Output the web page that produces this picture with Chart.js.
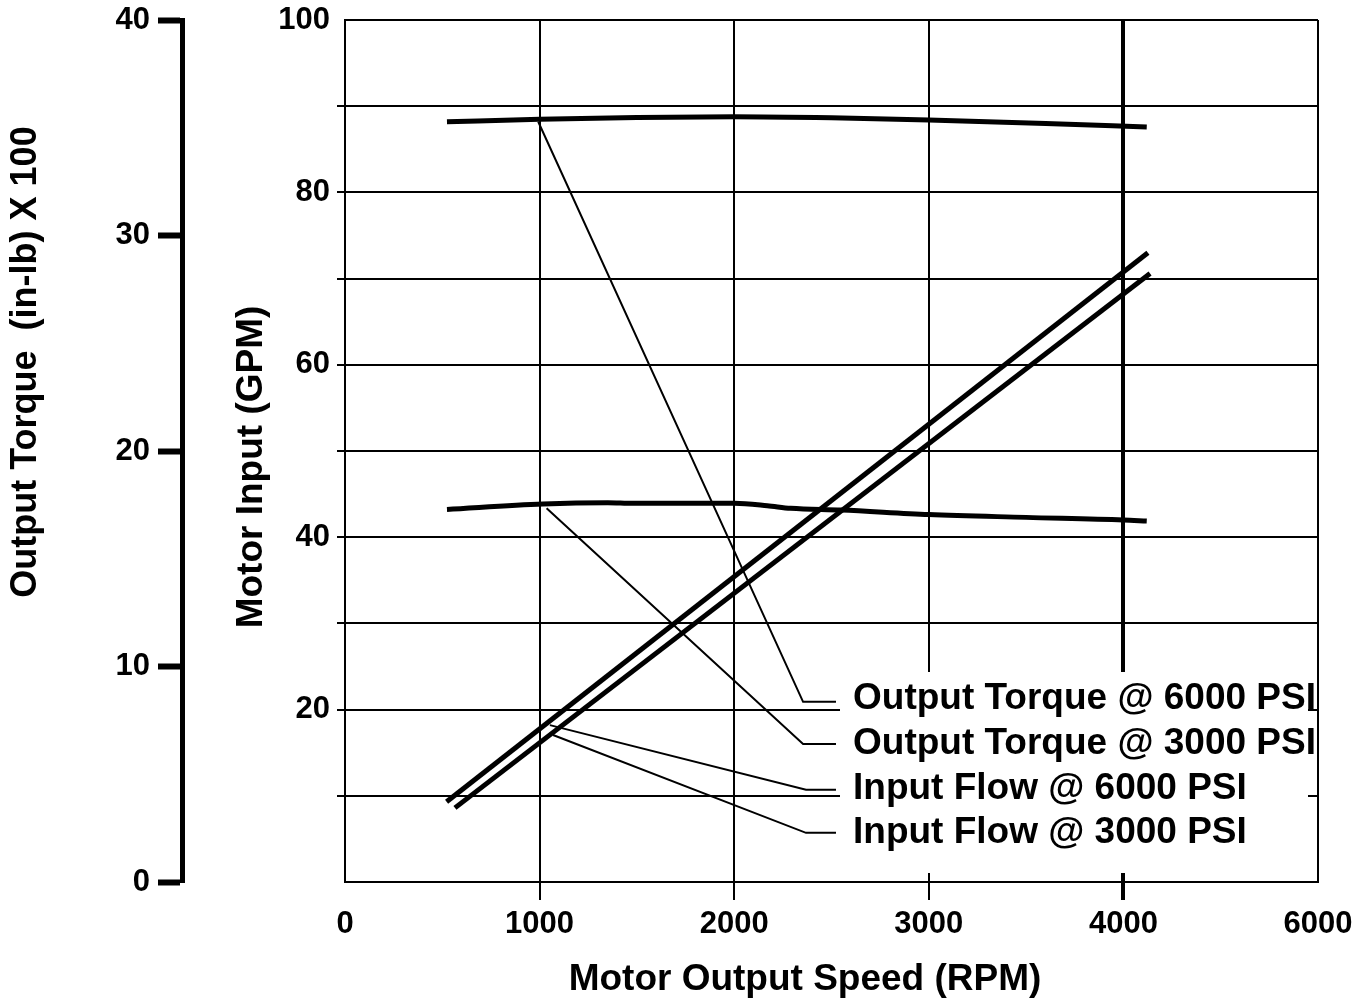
<!DOCTYPE html>
<html>
<head>
<meta charset="utf-8">
<script src="https://cdn.jsdelivr.net/npm/chart.js@4/dist/chart.umd.min.js"></script>
<style>
  html, body { margin: 0; padding: 0; background: #fff; }
  #wrap { width: 1372px; height: 999px; }
</style>
</head>
<body>
<div id="wrap"><canvas id="motor-chart" width="1372" height="999"></canvas></div>
<script>
// ---- data ----
// x axis: the drawn grid runs 0..5000 but the last tick is printed "6000"
const xTickLabels = ['0', '1000', '2000', '3000', '4000', '6000'];

// Output torque (in-lb x 100), far left axis
const rpmTorque6000 = [524, 1000, 1500, 2000, 2500, 3000, 3600, 4120];
const torque6000    = [35.28, 35.39, 35.47, 35.51, 35.46, 35.36, 35.2, 35.03];
const rpmTorque3000 = [524, 1017, 1350, 1480, 2000, 2170, 2290, 2550, 3000, 3500, 4000, 4120];
const torque3000    = [17.29, 17.54, 17.6, 17.57, 17.57, 17.46, 17.34, 17.26, 17.05, 16.92, 16.8, 16.75];

// Input flow (GPM)
const rpmFlow6000 = [522, 4126];
const flow6000    = [9.3, 73.0];
const rpmFlow3000 = [565, 4137];
const flow3000    = [8.6, 70.6];

// leader lines from each curve to its label (RPM / GPM)
const leadRpmT6000  = [993, 2354, 2523];
const leadGpmT6000  = [88.2, 20.9, 20.9];
const leadRpmT3000  = [1036, 2354, 2523];
const leadGpmT3000  = [43.35, 16.0, 16.0];
const leadRpmF6000  = [1053, 2369, 2523];
const leadGpmF6000  = [18.2, 10.7, 10.7];
const leadRpmF3000  = [1069, 2369, 2523];
const leadGpmF3000  = [17.05, 5.7, 5.7];

const labelTexts = [
    'Output Torque @ 6000 PSI',
    'Output Torque @ 3000 PSI',
    'Input Flow @ 6000 PSI',
    'Input Flow @ 3000 PSI'
];

const FONT = '"Liberation Sans", Arial, Helvetica, sans-serif';

function pts(xs, ys) {
    return xs.map((x, i) => ({ x: x, y: ys[i] }));
}

function curve(xs, ys, axis, width, smooth) {
    return {
        data: pts(xs, ys),
        yAxisID: axis,
        borderColor: '#000',
        borderWidth: width,
        pointRadius: 0,
        tension: smooth ? 0.4 : 0,
        cubicInterpolationMode: smooth ? 'monotone' : 'default',
        borderCapStyle: 'butt'
    };
}

// the y scales should not push the plot down for their top label
function squeezeVertical(s) {
    s.paddingTop = 0;
    s.paddingBottom = 0;
}

// white box behind the labels, label text and axis titles
const annotations = {
    id: 'annotations',
    beforeDatasetsDraw(chart) {
        const ctx = chart.ctx;
        ctx.save();
        ctx.fillStyle = '#fff';
        ctx.fillRect(840, 672, 468, 201);
        ctx.restore();
    },
    afterDraw(chart) {
        const ctx = chart.ctx;
        ctx.save();
        ctx.fillStyle = '#000';
        ctx.textBaseline = 'middle';
        ctx.textAlign = 'left';
        ctx.font = 'bold 37px ' + FONT;
        const rows = [699, 744, 789, 833];
        labelTexts.forEach((t, i) => ctx.fillText(t, 853, rows[i]));

        ctx.textAlign = 'center';
        ctx.fillText('Motor Output Speed (RPM)', 805, 980);

        ctx.translate(252, 467);
        ctx.rotate(-Math.PI / 2);
        ctx.fillText('Motor Input (GPM)', 0, 0);
        ctx.restore();

        ctx.save();
        ctx.fillStyle = '#000';
        ctx.textBaseline = 'middle';
        ctx.textAlign = 'center';
        ctx.font = 'bold 36px ' + FONT;
        ctx.translate(26, 362);
        ctx.rotate(-Math.PI / 2);
        ctx.fillText('Output Torque  (in-lb) X 100', 0, 0);
        ctx.restore();
    }
};

const tickFont = { family: FONT, size: 31, weight: 'bold' };

new Chart(document.getElementById('motor-chart'), {
    type: 'line',
    data: {
        datasets: [
            curve(rpmTorque6000, torque6000, 'y2', 5, true),
            curve(rpmTorque3000, torque3000, 'y2', 5, true),
            curve(rpmFlow6000, flow6000, 'y', 5, false),
            curve(rpmFlow3000, flow3000, 'y', 5, false),
            curve(leadRpmT6000, leadGpmT6000, 'y', 2, false),
            curve(leadRpmT3000, leadGpmT3000, 'y', 2, false),
            curve(leadRpmF6000, leadGpmF6000, 'y', 2, false),
            curve(leadRpmF3000, leadGpmF3000, 'y', 2, false)
        ]
    },
    options: {
        responsive: false,
        animation: false,
        layout: { padding: { top: 20, right: 54, left: 0, bottom: 0 } },
        plugins: {
            legend: { display: false },
            tooltip: { enabled: false }
        },
        scales: {
            x: {
                type: 'linear',
                min: 0,
                max: 5000,
                afterFit(s) { s.height = 117; },
                ticks: {
                    stepSize: 1000,
                    color: '#000',
                    font: tickFont,
                    padding: 6,
                    maxRotation: 0,
                    callback: (v, i) => xTickLabels[i]
                },
                grid: {
                    color: '#000',
                    lineWidth: c => (c.tick && c.tick.value === 4000 ? 4 : 2),
                    tickColor: c => (c.tick && (c.tick.value === 0 || c.tick.value === 5000) ? 'rgba(0,0,0,0)' : '#000'),
                    tickLength: 18
                },
                border: { display: true, color: '#000', width: 2 }
            },
            y: {
                type: 'linear',
                position: 'left',
                min: 0,
                max: 100,
                weight: 0,
                afterFit(s) { s.width = 163; squeezeVertical(s); },
                ticks: {
                    stepSize: 10,
                    color: '#000',
                    font: tickFont,
                    padding: 7,
                    callback: v => (v % 20 === 0 && v !== 0 ? String(v) : '')
                },
                grid: {
                    color: '#000',
                    lineWidth: 2,
                    tickColor: c => (c.tick && (c.tick.value === 0 || c.tick.value === 100) ? 'rgba(0,0,0,0)' : '#000'),
                    tickLength: 8
                },
                border: { display: true, color: '#000', width: 2 }
            },
            y2: {
                type: 'linear',
                position: 'left',
                min: 0,
                max: 40,
                weight: 1,
                afterFit(s) { s.width = 182; squeezeVertical(s); },
                ticks: {
                    stepSize: 10,
                    color: '#000',
                    font: tickFont,
                    padding: 8
                },
                grid: {
                    drawOnChartArea: false,
                    color: '#000',
                    tickColor: '#000',
                    tickWidth: 6,
                    tickLength: 24
                },
                border: { display: true, color: '#000', width: 5 }
            }
        }
    },
    plugins: [annotations]
});
</script>
</body>
</html>
